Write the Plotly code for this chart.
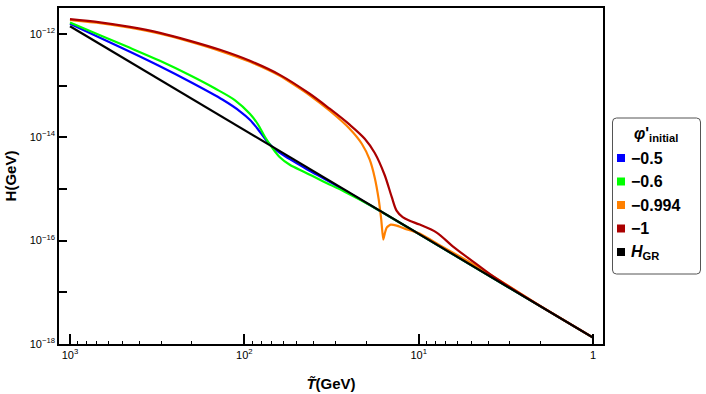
import plotly.graph_objects as go

# ---------------- data ----------------
blue_T = [1000, 673, 453, 305, 205, 133, 106, 93, 84, 75.3, 66.9, 54.9, 43.8, 32.4, 21.8, 10, 1]
blue_H = [1.56e-12, 8.37e-13, 4.49e-13, 2.355e-13, 1.182e-13, 5.30e-14, 3.18e-14, 2.18e-14,
          1.46e-14, 8.95e-15, 5.86e-15, 3.76e-15, 2.41e-15, 1.38e-15, 6.34e-16, 1.35e-16, 1.33e-18]

green_T = [1000, 673, 453, 305, 205, 148, 113, 93, 84, 76.3, 69.6, 62.6, 54.9, 45, 35.5,
           26.6, 19.1, 10, 1]
green_H = [1.653e-12, 9.35e-13, 5.36e-13, 3.01e-13, 1.578e-13, 8.85e-14, 5.19e-14, 2.845e-14,
           1.823e-14, 1.022e-14, 6.41e-15, 4.11e-15, 2.94e-15, 2.11e-15, 1.41e-15, 8.85e-16,
           4.90e-16, 1.35e-16, 1.33e-18]

orange_T = [1000, 673, 453, 305, 205, 138, 92.9, 62.6, 42.2, 32.4, 24.9, 21.2, 19.1, 17.87,
            16.95, 16.40, 15.97, 15.66, 15.26, 14.47, 13.37, 12.03, 9.87, 7.58, 5.10, 3.43, 2, 1]
orange_H = [1.865e-12, 1.61e-12, 1.318e-12, 1.009e-12, 7.07e-13, 4.69e-13, 2.876e-13, 1.543e-13,
            6.48e-14, 3.25e-14, 1.46e-14, 7.49e-15, 3.67e-15, 1.65e-15, 6.20e-16, 2.545e-16,
            1.045e-16, 1.366e-16, 1.78e-16, 2.04e-16, 1.95e-16, 1.705e-16, 1.366e-16, 8.19e-17,
            3.84e-17, 1.70e-17, 5.4e-18, 1.33e-18]

red_T = [1000, 673, 453, 305, 205, 138, 92.9, 62.6, 42.2, 32.4, 24.9, 20.4, 17.9, 15.7, 14.3,
         13.4, 12.36, 11.27, 9.87, 7.89, 6.38, 4.9, 3.9, 3, 2, 1]
red_H = [1.92e-12, 1.67e-12, 1.36e-12, 1.045e-12, 7.33e-13, 4.91e-13, 3.01e-13, 1.61e-13,
         6.93e-14, 3.56e-14, 1.75e-14, 9.36e-15, 5.01e-15, 1.88e-15, 7.08e-16, 3.80e-16,
         2.85e-16, 2.43e-16, 2.04e-16, 1.43e-16, 7.76e-17, 3.98e-17, 2.24e-17, 1.25e-17,
         5.36e-18, 1.33e-18]

gr_T = [1000, 1]
gr_H = [1.4e-12, 1.33e-18]

series_names = ["\u22120.5", "\u22120.6", "\u22120.994", "\u22121", "<i>H</i><sub>GR</sub>"]
series_colors = ["rgb(0,0,255)", "rgb(0,255,0)", "rgb(255,128,0)", "rgb(170,0,0)", "rgb(0,0,0)"]

x_tick_vals = [1000, 100, 10, 1]
x_tick_text = ["10<sup>3</sup>", "10<sup>2</sup>", "10<sup>1</sup>", "1"]
x_minor_vals = [m * 10 ** k for k in (0, 1, 2) for m in range(2, 10)]
y_tick_vals = [1e-12, 1e-14, 1e-16, 1e-18]
y_tick_text = ["10<sup>\u221212</sup>", "10<sup>\u221214</sup>",
               "10<sup>\u221216</sup>", "10<sup>\u221218</sup>"]
y_minor_vals = [1e-13, 1e-15, 1e-17]

legend_title = "<b><i>\u03c6</i>'</b><b><sub>initial</sub></b>"

# ---------------- figure ----------------
FONT = "Liberation Sans, Arial, sans-serif"
fig = go.Figure()
curves = [(blue_T, blue_H), (green_T, green_H), (orange_T, orange_H), (red_T, red_H), (gr_T, gr_H)]
for i, (tx, hy) in enumerate(curves):
    fig.add_trace(go.Scatter(
        x=tx, y=hy, mode="lines", name=series_names[i], showlegend=False,
        line=dict(color=series_colors[i], width=2.2, shape="spline",
                  smoothing=0.5 if i == 2 else 0.9),
    ))

L, R, T_, B = 59, 103, 8, 50
W, H = 706, 394
pw, ph = W - L - R, H - T_ - B

fig.update_layout(
    width=W, height=H,
    margin=dict(l=L, r=R, t=T_, b=B, autoexpand=False),
    paper_bgcolor="white", plot_bgcolor="white",
    font=dict(family=FONT, color="black", size=11),
    showlegend=False,
)
fig.update_xaxes(
    type="log", range=[3.063, -0.057], automargin=False,
    showgrid=False, zeroline=False,
    showline=True, linecolor="black", linewidth=1.5, mirror=True,
    ticks="inside", ticklen=10, tickwidth=1.5, tickcolor="black",
    tickvals=x_tick_vals, ticktext=x_tick_text, tickfont=dict(size=11),
    minor=dict(ticks="inside", ticklen=3, tickwidth=1, tickcolor="black",
               tickvals=x_minor_vals, showgrid=False),
    title=dict(text="<b><i>T\u0303</i>(GeV)</b>", font=dict(size=15), standoff=19),
)
fig.update_yaxes(
    type="log", range=[-18, -11.5], automargin=False,
    showgrid=False, zeroline=False,
    showline=True, linecolor="black", linewidth=1.5, mirror=True,
    ticks="inside", ticklen=8, tickwidth=1.5, tickcolor="black",
    tickvals=y_tick_vals, ticktext=y_tick_text, tickfont=dict(size=11),
    minor=dict(ticks="inside", ticklen=8, tickwidth=1.5, tickcolor="black",
               tickvals=y_minor_vals, showgrid=False),
    title=dict(text="<b>H(GeV)</b>", font=dict(size=15), standoff=10),
)

# ---------------- custom legend (rounded box, square swatches) ----------------
def px_x(p):
    return (p - L) / pw

def px_y(p):
    return (H - B - p) / ph

bx0, bx1, by0, by1 = 612.5, 700.5, 118, 274
r = 4
path = (f"M {px_x(bx0 + r)},{px_y(by0)} L {px_x(bx1 - r)},{px_y(by0)} "
        f"Q {px_x(bx1)},{px_y(by0)} {px_x(bx1)},{px_y(by0 + r)} "
        f"L {px_x(bx1)},{px_y(by1 - r)} Q {px_x(bx1)},{px_y(by1)} {px_x(bx1 - r)},{px_y(by1)} "
        f"L {px_x(bx0 + r)},{px_y(by1)} Q {px_x(bx0)},{px_y(by1)} {px_x(bx0)},{px_y(by1 - r)} "
        f"L {px_x(bx0)},{px_y(by0 + r)} Q {px_x(bx0)},{px_y(by0)} {px_x(bx0 + r)},{px_y(by0)} Z")
fig.add_shape(type="path", path=path, xref="paper", yref="paper",
              line=dict(color="#555555", width=1), fillcolor="white", layer="above")

fig.add_annotation(text=legend_title, x=px_x(656), y=px_y(134), xref="paper", yref="paper",
                   showarrow=False, xanchor="center", yanchor="middle",
                   font=dict(size=16, family=FONT))
row_y = [158, 181.5, 205, 228.5, 252]
for i, name in enumerate(series_names):
    cy = row_y[i]
    fig.add_shape(type="rect", xref="paper", yref="paper",
                  x0=px_x(617), x1=px_x(625), y0=px_y(cy + 4), y1=px_y(cy - 4),
                  fillcolor=series_colors[i], line=dict(width=0), layer="above")
    fig.add_annotation(text=f"<b>{name}</b>", x=px_x(629), y=px_y(cy), xref="paper", yref="paper",
                       showarrow=False, xanchor="left", yanchor="middle",
                       font=dict(size=16, family=FONT))

# remove the browser's default 8px body margin so the figure sits at the window origin
fig.write_html("out.html", config={"displayModeBar": False},
               post_script="document.body.style.margin='0px';")
